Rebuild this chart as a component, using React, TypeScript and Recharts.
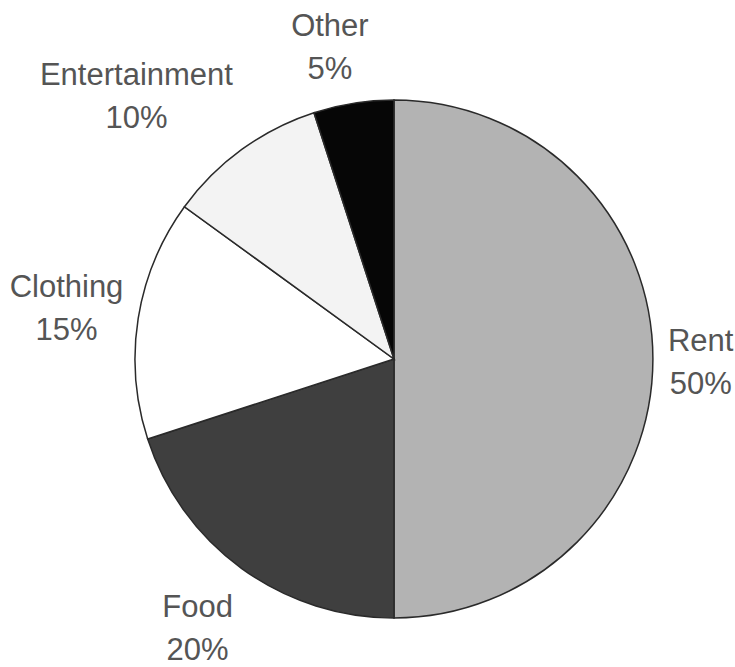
import React from 'react';
import { PieChart, Pie, Cell } from 'recharts';

const categories = ['Rent', 'Food', 'Clothing', 'Entertainment', 'Other'];
const shares = [50, 20, 15, 10, 5];
const sliceColors = ['#b3b3b3', '#3f3f3f', '#ffffff', '#f3f3f3', '#060606'];

const data = categories.map((name, i) => ({ name, value: shares[i] }));

const RADIAN = Math.PI / 180;
const FONT = '31px "Liberation Sans", Arial, sans-serif';
const LINE_GAP = 43;

let ctx: CanvasRenderingContext2D | null = null;
const textWidth = (s: string) => {
  if (!ctx) ctx = document.createElement('canvas').getContext('2d');
  if (!ctx) return s.length * 16;
  ctx.font = FONT;
  return ctx.measureText(s).width;
};

// Excel-style "outside end" label: the text box sits just off the rim,
// pushed outward along the slice's middle direction
const SliceLabel = (props: any) => {
  const { cx, cy, midAngle, outerRadius, name, value } = props;
  const dx = Math.cos(-midAngle * RADIAN);
  const dy = Math.sin(-midAngle * RADIAN);
  const line1 = name;
  const line2 = `${value}%`;
  const w = Math.max(textWidth(line1), textWidth(line2));
  const halfH = 44;
  const r = outerRadius + 15;
  const kx = Math.sign(dx) * Math.min(1, 3.5 * Math.abs(dx));
  const ky = Math.sign(dy) * Math.min(1, 1.6 * Math.abs(dy));
  const x = cx + r * dx + kx * (w / 2);
  const y = cy + r * dy + ky * halfH;
  return (
    <text
      x={x}
      y={y}
      textAnchor="middle"
      fill="#555555"
      style={{ font: FONT }}
    >
      <tspan x={x} y={y - 8}>{line1}</tspan>
      <tspan x={x} y={y - 8 + LINE_GAP}>{line2}</tspan>
    </text>
  );
};

export default function App() {
  return (
    <div style={{ position: 'absolute', left: 0, top: 0, width: 735, height: 667, background: '#ffffff' }}>
      <PieChart width={735} height={667} margin={{ top: 0, right: 0, bottom: 0, left: 0 }}>
        <Pie
          data={data}
          dataKey="value"
          nameKey="name"
          cx={394}
          cy={359}
          outerRadius={259}
          startAngle={90}
          endAngle={-270}
          stroke="#2a2a2a"
          strokeWidth={1.5}
          label={<SliceLabel />}
          labelLine={false}
          isAnimationActive={false}
        >
          {data.map((d, i) => (
            <Cell key={d.name} fill={sliceColors[i]} />
          ))}
        </Pie>
      </PieChart>
    </div>
  );
}
